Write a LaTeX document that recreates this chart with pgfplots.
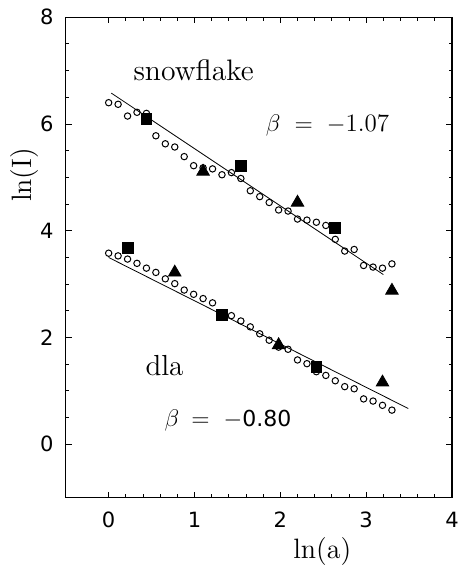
\documentclass[border=0pt]{standalone}
\usepackage{fontspec}
\setsansfont{DejaVu Sans}
\usepackage{pgfplots}
\pgfplotsset{compat=1.18}

\begin{document}
\begin{tikzpicture}
\begin{axis}[
    width=193pt, height=240pt, scale only axis,
    xmin=-0.5, xmax=4, ymin=-1, ymax=8,
    xtick={0,1,2,3,4}, ytick={0,2,4,6,8},
    minor x tick num=4, minor y tick num=3,
    tick align=inside,
    major tick length=3pt, minor tick length=1.6pt,
    axis line style={line width=0.6pt},
    every tick/.style={black, line width=0.5pt},
    /pgf/number format/assume math mode=true,
    ticklabel style={font=\sffamily\fontsize{10.5}{12}\selectfont},
    xticklabel style={anchor=center, yshift=-11pt},
    yticklabel style={anchor=center, xshift=-9.5pt},
    xlabel={ln(a)}, ylabel={ln(I)},
    label style={font=\fontsize{14}{16}\selectfont},
    xlabel style={at={(axis description cs:0.664,-0.1125)}, anchor=center},
    ylabel style={at={(axis description cs:-0.108,0.672)}, anchor=center},
]

% snowflake
\addplot[black, line width=0.4pt] coordinates {(0.03,6.58) (3.20,3.18)};
\addplot[only marks, mark=o, mark size=1.6pt, mark options={line width=0.5pt}] coordinates {
    (0.00,6.40) (0.11,6.37) (0.22,6.15) (0.33,6.22) (0.44,6.20) (0.55,5.78)
    (0.66,5.63) (0.77,5.57) (0.88,5.39) (0.99,5.22) (1.10,5.18) (1.21,5.16)
    (1.32,5.05) (1.43,5.09) (1.54,4.98) (1.65,4.75) (1.76,4.64) (1.87,4.53)
    (1.98,4.39) (2.09,4.37) (2.20,4.22) (2.31,4.20) (2.42,4.16) (2.53,4.10)
    (2.64,3.84) (2.75,3.62) (2.86,3.65) (2.97,3.35) (3.08,3.32) (3.19,3.30)
    (3.30,3.38)
};
\addplot[only marks, mark=square*, mark size=2.7pt, black] coordinates {
    (0.44,6.10) (1.54,5.22) (2.64,4.05)
};
\addplot[only marks, mark=triangle*, mark size=3.6pt, black] coordinates {
    (1.10,5.11) (2.20,4.53) (3.30,2.88)
};

% dla
\addplot[black, line width=0.4pt] coordinates {(0.00,3.50) (3.49,0.67)};
\addplot[only marks, mark=o, mark size=1.6pt, mark options={line width=0.5pt}] coordinates {
    (0.00,3.58) (0.11,3.53) (0.22,3.47) (0.33,3.39) (0.44,3.30) (0.55,3.22)
    (0.66,3.10) (0.77,3.01) (0.88,2.89) (0.99,2.81) (1.10,2.73) (1.21,2.65)
    (1.32,2.45) (1.43,2.41) (1.54,2.31) (1.65,2.20) (1.76,2.07) (1.87,1.95)
    (1.98,1.82) (2.09,1.78) (2.20,1.58) (2.31,1.51) (2.42,1.36) (2.53,1.29)
    (2.64,1.19) (2.75,1.08) (2.86,1.04) (2.97,0.85) (3.08,0.81) (3.19,0.73)
    (3.30,0.64)
};
\addplot[only marks, mark=square*, mark size=2.7pt, black] coordinates {
    (0.22,3.68) (1.32,2.43) (2.42,1.45)
};
\addplot[only marks, mark=triangle*, mark size=3.6pt, black] coordinates {
    (0.77,3.22) (1.98,1.86) (3.19,1.16)
};

\node[font=\fontsize{14.8}{16}\selectfont] at (axis cs:0.99,7.0) {snowflake};
\node[font=\fontsize{14.5}{16}\selectfont] at (axis cs:0.65,1.47) {dla};
\node[font=\fontsize{12.5}{14}\selectfont] at (axis cs:2.55,5.98)
    {$\beta$\hspace{7pt}$=$\hspace{7pt}$-$1.07};
\node[font=\fontsize{12.5}{14}\selectfont] at (axis cs:1.39,0.45)
    {$\beta$\hspace{6pt}$=$\hspace{7pt}$-${\sffamily\fontsize{11}{13}\selectfont 0.80}};

\coordinate (sw) at (rel axis cs:0,0);
\coordinate (ne) at (rel axis cs:1,1);
\end{axis}
\pgfresetboundingbox
\path[use as bounding box] ([shift={(-32.85pt,-33.65pt)}]sw) rectangle ([shift={(2.65pt,8.65pt)}]ne);
\end{tikzpicture}
\end{document}
